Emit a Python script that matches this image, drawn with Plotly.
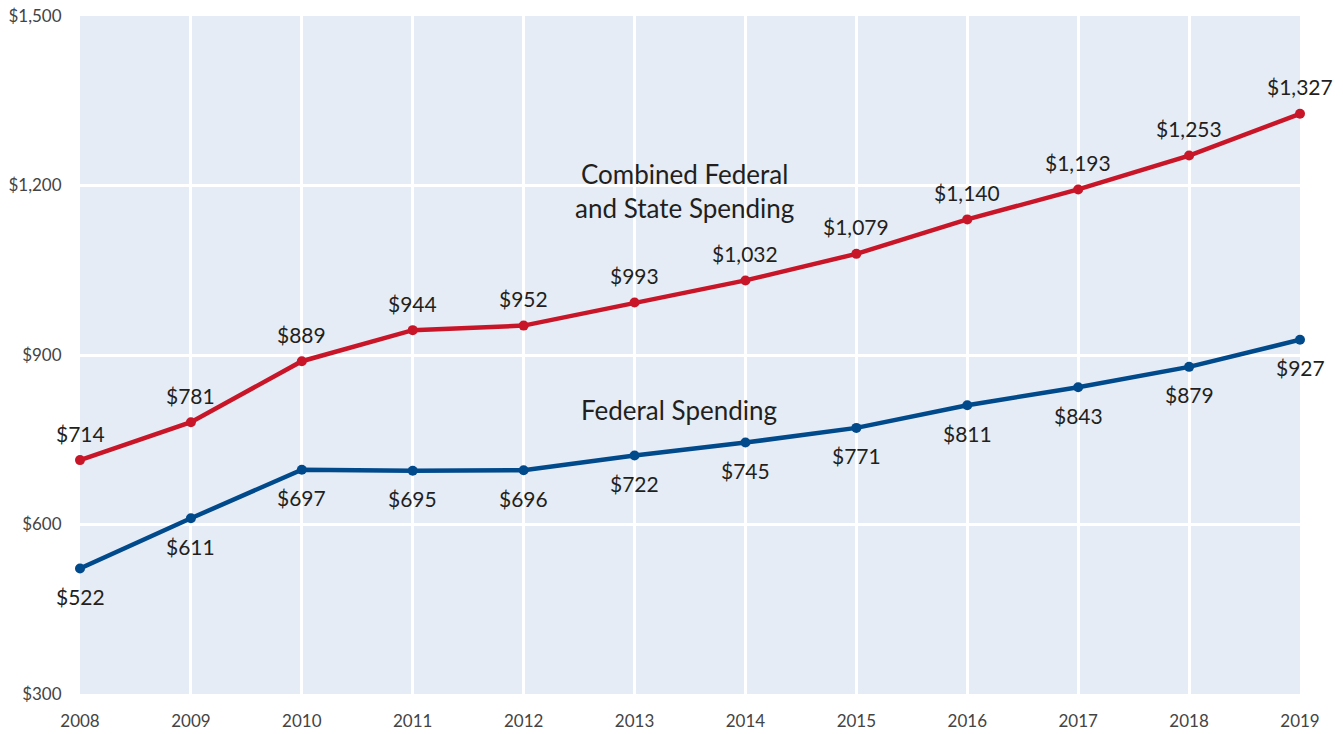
import plotly.graph_objects as go

years = [2008, 2009, 2010, 2011, 2012, 2013, 2014, 2015, 2016, 2017, 2018, 2019]
combined = [714, 781, 889, 944, 952, 993, 1032, 1079, 1140, 1193, 1253, 1327]
federal = [522, 611, 697, 695, 696, 722, 745, 771, 811, 843, 879, 927]
y_ticks = [300, 600, 900, 1200, 1500]
y_tick_labels = ["$300", "$600", "$900", "$1,200", "$1,500"]

RED = "rgb(200,22,40)"
BLUE = "rgb(0,74,140)"
FONT = "Lato"

def money(v):
    return "${:,}".format(v)

fig = go.Figure()
fig.add_trace(go.Scatter(
    x=years, y=combined, mode="lines+markers",
    line=dict(color=RED, width=4.5), marker=dict(color=RED, size=10),
    cliponaxis=False, showlegend=False, hoverinfo="skip"))
fig.add_trace(go.Scatter(
    x=years, y=federal, mode="lines+markers",
    line=dict(color=BLUE, width=4.5), marker=dict(color=BLUE, size=10),
    cliponaxis=False, showlegend=False, hoverinfo="skip"))

for x, v in zip(years, combined):
    fig.add_annotation(x=x, y=v, text=money(v), showarrow=False, yshift=27,
                       font=dict(family=FONT, size=21, color="#231f20"))
for x, v in zip(years, federal):
    fig.add_annotation(x=x, y=v, text=money(v), showarrow=False, yshift=-28,
                       font=dict(family=FONT, size=21, color="#231f20"))

fig.add_annotation(x=2013.45, y=1190, text="Combined Federal<br>and State Spending",
                   showarrow=False, font=dict(family=FONT, size=26, color="#231f20"),
                   align="center")
fig.add_annotation(x=2013.4, y=803, text="Federal Spending",
                   showarrow=False, font=dict(family=FONT, size=26, color="#231f20"),
                   align="center")

fig.update_layout(
    width=1343, height=734,
    margin=dict(l=80, r=43, t=16, b=40),
    plot_bgcolor="#e5ecf5", paper_bgcolor="white",
    font=dict(family=FONT, color="#444"),
)
fig.update_xaxes(
    range=[2008, 2019], tickmode="array", tickvals=years,
    ticktext=[str(y) for y in years], automargin=False,
    showgrid=True, gridcolor="white", gridwidth=3,
    zeroline=False, showline=False,
    ticks="outside", ticklen=12, tickcolor="rgba(0,0,0,0)",
    tickfont=dict(family=FONT, size=17, color="#444"),
)
fig.update_yaxes(
    range=[300, 1500], tickmode="array", tickvals=y_ticks, ticktext=y_tick_labels,
    automargin=False,
    showgrid=True, gridcolor="white", gridwidth=3,
    zeroline=False, showline=False,
    ticks="outside", ticklen=14, tickcolor="rgba(0,0,0,0)",
    tickfont=dict(family=FONT, size=17, color="#444"),
)

fig.write_html("out.html", config={"displayModeBar": False},
               post_script="document.body.style.margin='0';document.body.style.overflow='hidden';")
